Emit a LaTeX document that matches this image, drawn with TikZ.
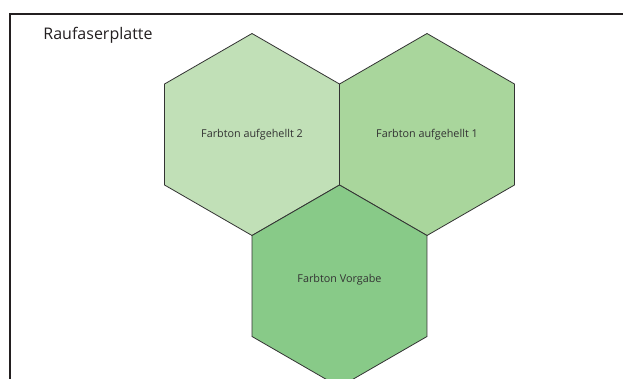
\documentclass[tikz,border=0pt]{standalone}
\usepackage{fontspec}
\setmainfont{Open Sans}
\usetikzlibrary{shapes.geometric}
\definecolor{frame}{HTML}{231F20}
\definecolor{hexline}{HTML}{333333}
\definecolor{tone2}{HTML}{C1E0B7}
\definecolor{tone1}{HTML}{A9D69C}
\definecolor{toneref}{HTML}{88CA88}
\tikzset{
	hexa/.style={draw=hexline, line width=0.8pt, regular polygon, regular polygon sides=6,
		shape border rotate=90, minimum size=202pt, inner sep=0pt, outer sep=0pt,
		font=\fontsize{10.8}{12}\selectfont, text=hexline}
}
\begin{document}
\begin{tikzpicture}[x=1pt, y=-1pt]
\useasboundingbox (0,0) rectangle (623,378);
\clip (0,0) rectangle (623,378);

% frame
\draw[frame, line width=2pt] (10,14) rectangle (650,400);
\node at (98,35)[font=\fontsize{16}{18}\selectfont, text=frame](title){Raufaserplatte};

% hexagons
\node at (252,134.5)[hexa, fill=tone2](A2){Farbton aufgehellt 2};
\node at (427,134.5)[hexa, fill=tone1](A1){Farbton aufgehellt 1};
\node at (339.5,286)[hexa, fill=toneref, text depth=16pt](V){Farbton Vorgabe};

\end{tikzpicture}
\end{document}
